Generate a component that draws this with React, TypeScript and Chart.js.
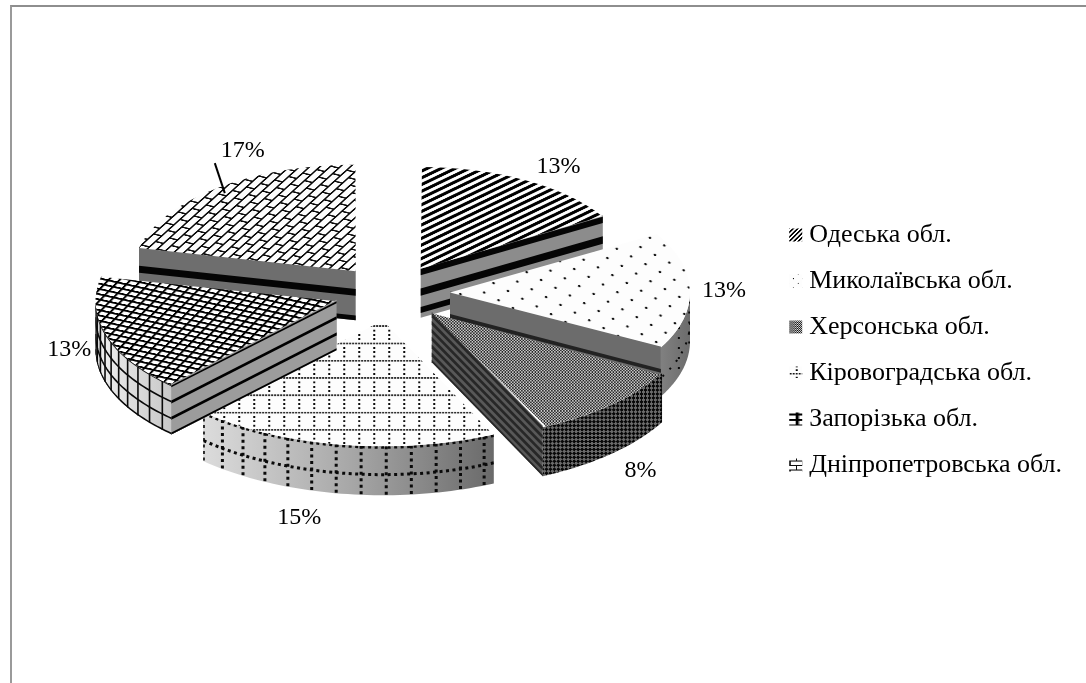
import React, { useEffect, useRef } from "react";
import { Chart, registerables } from "chart.js";

Chart.register(...registerables);

// Regional shares, in percent.
const categories = [
  "Одеська обл.",
  "Миколаївська обл.",
  "Херсонська обл.",
  "Кіровоградська обл.",
  "Запорізька обл.",
  "Дніпропетровська обл.",
];
const shares = [13, 13, 8, 15, 13, 17];

// Projection of the tilted pie.
const CENTER_X = 392;
const CENTER_Y = 293;
const TILT = 0.48;
const EXPLODE = 58;
const WALL = 49;
// Slices nearer the viewer are drawn larger.
const sliceRadii = [212, 240, 262, 262, 241, 222];
// Label shifts relative to the rim point of each slice.
const labelShifts = [
  [33, -14],
  [34, 1],
  [29, 66],
  [-42, 73],
  [-37, 15],
  [26, -37],
];
const LABEL_FONT = '24px "Liberation Serif"';
const SWATCH = 13;

type Band = [number, number];
interface WallStyle {
  faceColor: string;
  bandColor: string;
  bands: Band[];
  rimStops?: string[];
  rimLines?: number[];
  rimStep?: number;
  rimDash?: number[];
  rimWidth?: number;
  checker?: boolean;
}

const wallStyles: WallStyle[] = [
  {
    faceColor: "#8c8c8c",
    bandColor: "#050505",
    bands: [[0, 0.13], [0.4, 0.55], [0.78, 0.9]],
  },
  {
    faceColor: "#6c6c6c",
    bandColor: "#222222",
    bands: [[0.44, 0.52]],
    rimStops: ["#808080", "#6c6c6c"],
    rimLines: [0.62],
    rimStep: 13,
    rimDash: [2, 8],
    rimWidth: 2,
  },
  {
    faceColor: "#585858",
    bandColor: "#272727",
    bands: [[0, 0.08], [0.16, 0.24], [0.32, 0.4], [0.48, 0.56], [0.64, 0.72], [0.8, 0.88], [0.95, 1]],
    checker: true,
  },
  {
    faceColor: "#999999",
    bandColor: "#000000",
    bands: [],
    rimStops: ["#dcdcdc", "#a8a8a8", "#6a6a6a"],
    rimLines: [0.02, 0.58],
    rimStep: 5.5,
    rimDash: [3, 3.5],
    rimWidth: 3,
  },
  {
    faceColor: "#9c9c9c",
    bandColor: "#000000",
    bands: [[0, 0.04], [0.31, 0.37], [0.64, 0.7], [0.96, 1]],
    rimStops: ["#f0f0f0", "#c8c8c8"],
    rimLines: [0, 0.33, 0.67, 0.98],
    rimStep: 4.6,
    rimWidth: 1.6,
  },
  {
    faceColor: "#6e6e6e",
    bandColor: "#050505",
    bands: [[0.36, 0.5], [0.9, 1]],
  },
];

// The fifth slice's walls overlap the tip of the fourth slice's top.
const wallsInFront = [4];

function makeTile(w: number, h: number, paint: (c: CanvasRenderingContext2D) => void) {
  const tile = document.createElement("canvas");
  tile.width = w;
  tile.height = h;
  const c = tile.getContext("2d") as CanvasRenderingContext2D;
  paint(c);
  return tile;
}

function buildTiles() {
  return [
    makeTile(14, 14, (c) => {
      c.fillStyle = "#ffffff";
      c.fillRect(0, 0, 14, 14);
      c.strokeStyle = "#000000";
      c.lineWidth = 5;
      for (const o of [-14, 0, 14]) {
        c.beginPath();
        c.moveTo(o - 2, 16);
        c.lineTo(o + 16, -2);
        c.stroke();
      }
    }),
    makeTile(24, 36, (c) => {
      c.fillStyle = "#fdfdfd";
      c.fillRect(0, 0, 24, 36);
      c.fillStyle = "#111111";
      for (const [x, y] of [[6, 9], [18, 27]]) {
        c.beginPath();
        c.ellipse(x, y, 1.3, 2.6, 0, 0, Math.PI * 2);
        c.fill();
      }
    }),
    makeTile(3, 6, (c) => {
      c.fillStyle = "#e0e0e0";
      c.fillRect(0, 0, 3, 6);
      c.fillStyle = "#101010";
      c.fillRect(0, 0, 1.5, 3);
      c.fillRect(1.5, 3, 1.5, 3);
    }),
    makeTile(15, 36, (c) => {
      c.fillStyle = "#fdfdfd";
      c.fillRect(0, 0, 15, 36);
      c.fillStyle = "#0a0a0a";
      for (let x = 0; x < 15; x += 3) c.fillRect(x, 0, 1.8, 3.6);
      for (let y = 9; y < 36; y += 9) c.fillRect(0, y, 2, 4);
    }),
    makeTile(10, 10, (c) => {
      c.fillStyle = "#ffffff";
      c.fillRect(0, 0, 10, 10);
      c.fillStyle = "#000000";
      c.fillRect(0, 0, 10, 3.6);
      c.fillRect(0, 0, 2.4, 10);
    }),
    makeTile(26, 18, (c) => {
      c.fillStyle = "#fdfdfd";
      c.fillRect(0, 0, 26, 18);
      c.fillStyle = "#0a0a0a";
      c.fillRect(0, 0, 26, 2);
      c.fillRect(0, 9, 26, 2);
      c.fillRect(0, 0, 2.8, 9);
      c.fillRect(13, 9, 2.8, 9);
    }),
  ];
}

// Pattern orientation on the top faces, rotation in degrees.
const topPatternTurn = [0, -8, 0, 0, 25, -62];
// Pattern scale on the small legend swatches: [x, y].
const swatchForm = [
  [0.32, 0.32],
  [0.4, 0.25],
  [0.7, 0.35],
  [1, 0.4],
  [1.3, 0.55],
  [0.5, 0.5],
];

function sliceGeometry(arc: any, index: number) {
  const mid = (arc.startAngle + arc.endAngle) / 2;
  const r = sliceRadii[index];
  const ax = CENTER_X + Math.cos(mid) * EXPLODE;
  const ay = CENTER_Y + Math.sin(mid) * EXPLODE * TILT;
  const at = (theta: number, depth: number): [number, number] => [
    ax + r * Math.cos(theta),
    ay + TILT * r * Math.sin(theta) + depth,
  ];
  return { mid, r, ax, ay, at, start: arc.startAngle, end: arc.endAngle };
}

function drawRadialFace(ctx: CanvasRenderingContext2D, g: any, theta: number, style: WallStyle) {
  const [px, py] = g.at(theta, 0);
  const quad = (f0: number, f1: number) => {
    ctx.beginPath();
    ctx.moveTo(g.ax, g.ay + f0 * WALL);
    ctx.lineTo(px, py + f0 * WALL);
    ctx.lineTo(px, py + f1 * WALL);
    ctx.lineTo(g.ax, g.ay + f1 * WALL);
    ctx.closePath();
    ctx.fill();
  };
  // The face starts slightly above the edge so no seam shows under the top.
  ctx.fillStyle = style.faceColor;
  quad(-0.03, 1);
  ctx.fillStyle = style.bandColor;
  for (const [f0, f1] of style.bands) quad(f0, f1);
}

function drawRim(ctx: CanvasRenderingContext2D, g: any, style: WallStyle, checker: CanvasPattern) {
  const a = Math.max(g.start, 0);
  const b = Math.min(g.end, Math.PI);
  if (a >= b) return;
  const steps = 48;
  const curve = (depth: number, reverse: boolean, first: boolean) => {
    for (let i = 0; i <= steps; i++) {
      const t = reverse ? 1 - i / steps : i / steps;
      const [x, y] = g.at(a + (b - a) * t, depth);
      if (i === 0 && first) ctx.moveTo(x, y);
      else ctx.lineTo(x, y);
    }
  };
  ctx.save();
  ctx.beginPath();
  curve(0, false, true);
  curve(WALL, true, false);
  ctx.closePath();
  if (style.checker) {
    ctx.fillStyle = checker;
  } else {
    const [x0] = g.at(b, 0);
    const [x1] = g.at(a, 0);
    const grad = ctx.createLinearGradient(Math.min(x0, x1), 0, Math.max(x0, x1), 0);
    const stops = style.rimStops || [style.faceColor, style.faceColor];
    stops.forEach((s, i) => grad.addColorStop(i / (stops.length - 1), s));
    ctx.fillStyle = grad;
  }
  ctx.fill();
  ctx.clip();
  ctx.strokeStyle = "#0a0a0a";
  ctx.lineWidth = style.rimWidth || 1;
  ctx.setLineDash(style.rimDash || []);
  for (const f of style.rimLines || []) {
    ctx.beginPath();
    curve(f * WALL, false, true);
    ctx.stroke();
  }
  if (style.rimStep) {
    const step = (style.rimStep * Math.PI) / 180;
    for (let th = Math.PI - step / 2; th > 0; th -= step) {
      if (th < a || th > b) continue;
      const [x0, y0] = g.at(th, 0);
      ctx.beginPath();
      ctx.moveTo(x0, y0);
      ctx.lineTo(x0, y0 + WALL);
      ctx.stroke();
    }
  }
  ctx.restore();
}

function drawWalls(ctx: CanvasRenderingContext2D, arc: any, i: number, checker: CanvasPattern) {
  const g = sliceGeometry(arc, i);
  const style = wallStyles[i];
  drawRim(ctx, g, style, checker);
  if (-Math.cos(g.start) > 0) drawRadialFace(ctx, g, g.start, style);
  if (Math.cos(g.end) > 0) drawRadialFace(ctx, g, g.end, style);
}

function makeTiltPlugin(checker: CanvasPattern, swatches: CanvasPattern[]) {
  return {
    id: "tiltedPie",
    afterDatasetsUpdate(chart: any) {
      chart.getDatasetMeta(0).data.forEach((arc: any, i: number) => {
        const fix = 1 - Math.sin(Math.min(Math.PI, arc.circumference));
        arc.outerRadius = sliceRadii[i] - EXPLODE * fix;
      });
    },
    beforeDatasetsDraw(chart: any) {
      const { ctx } = chart;
      const arcs = chart.getDatasetMeta(0).data;
      arcs.forEach((arc: any, i: number) => drawWalls(ctx, arc, i, checker));
      ctx.save();
      ctx.translate(CENTER_X, CENTER_Y);
      ctx.scale(1, TILT);
      ctx.translate(-arcs[0].x, -arcs[0].y);
    },
    afterDatasetsDraw(chart: any) {
      const { ctx } = chart;
      ctx.restore();
      const arcs = chart.getDatasetMeta(0).data;
      wallsInFront.forEach((i) => drawWalls(ctx, arcs[i], i, checker));
      ctx.save();
      ctx.font = LABEL_FONT;
      ctx.fillStyle = "#000000";
      ctx.textAlign = "center";
      ctx.textBaseline = "middle";
      arcs.forEach((arc: any, i: number) => {
        const g = sliceGeometry(arc, i);
        const [x, y] = g.at(g.mid, 0);
        ctx.fillText(`${shares[i]}%`, x + labelShifts[i][0], y + labelShifts[i][1]);
      });
      // Leader line from the largest slice to its label.
      const big = sliceGeometry(arcs[5], 5);
      const [lx, ly] = big.at(big.mid, 0);
      ctx.strokeStyle = "#000000";
      ctx.lineWidth = 2;
      ctx.beginPath();
      ctx.moveTo(lx + 8, ly + 5);
      ctx.lineTo(lx - 2, ly - 25);
      ctx.stroke();
      ctx.restore();
    },
    // Legend swatches are wider than the gap the legend leaves before its text.
    afterDraw(chart: any) {
      const { ctx, legend } = chart;
      legend.legendHitBoxes.forEach((box: any, i: number) => {
        const midX = box.left + SWATCH / 2;
        const midY = box.top + box.height / 2;
        ctx.save();
        ctx.translate(midX, midY);
        ctx.fillStyle = swatches[i];
        ctx.fillRect(-SWATCH / 2, -SWATCH / 2, SWATCH, SWATCH);
        ctx.restore();
      });
    },
  };
}

export default function App() {
  const ref = useRef<HTMLCanvasElement>(null);

  useEffect(() => {
    document.body.style.margin = "0";
    const canvas = ref.current as HTMLCanvasElement;
    const ctx = canvas.getContext("2d") as CanvasRenderingContext2D;
    const tiles = buildTiles();

    const topPatterns = tiles.map((tile, i) => {
      const p = ctx.createPattern(tile, "repeat") as CanvasPattern;
      p.setTransform(new DOMMatrix().rotate(topPatternTurn[i]));
      return p;
    });
    const swatches = tiles.map((tile, i) => {
      const p = ctx.createPattern(tile, "repeat") as CanvasPattern;
      p.setTransform(new DOMMatrix().scale(swatchForm[i][0], swatchForm[i][1]));
      return p;
    });
    const checkerTile = makeTile(8, 8, (c) => {
      c.fillStyle = "#6a6a6a";
      c.fillRect(0, 0, 8, 8);
      c.fillStyle = "#080808";
      c.fillRect(0, 0, 4, 4);
      c.fillRect(4, 4, 4, 4);
    });
    const checker = ctx.createPattern(checkerTile, "repeat") as CanvasPattern;
    checker.setTransform(new DOMMatrix().rotate(45).scale(0.7, 0.7));

    const chart = new Chart(canvas, {
      type: "pie",
      data: {
        labels: categories,
        datasets: [
          {
            data: shares,
            backgroundColor: topPatterns,
            borderWidth: 0,
            offset: EXPLODE * 4,
            clip: false,
          } as any,
        ],
      },
      options: {
        animation: false,
        responsive: false,
        radius: 240,
        layout: { padding: { right: 14, top: 17 } },
        plugins: {
          tooltip: { enabled: false },
          legend: {
            position: "right",
            align: "center",
            labels: {
              color: "#000000",
              font: { family: "Liberation Serif", size: 26 },
              boxWidth: 7,
              boxHeight: 7,
              padding: 20,
              generateLabels: () =>
                categories.map((text, i) => ({
                  text,
                  fillStyle: "transparent",
                  strokeStyle: "transparent",
                  lineWidth: 0,
                  hidden: false,
                  index: i,
                })),
            },
          },
        },
      } as any,
      plugins: [makeTiltPlugin(checker, swatches)],
    });
    return () => chart.destroy();
  }, []);

  return (
    <div style={{ position: "absolute", left: 0, top: 0, width: 1086, height: 683, overflow: "hidden", background: "#ffffff" }}>
      <canvas ref={ref} width={1086} height={683} style={{ position: "absolute", left: 0, top: 0, display: "block" }} />
      <div
        style={{
          position: "absolute",
          left: 10,
          top: 5,
          right: 0,
          bottom: 0,
          borderLeft: "2px solid #9a9a9a",
          borderTop: "2px solid #8e8e8e",
          pointerEvents: "none",
        }}
      />
    </div>
  );
}
